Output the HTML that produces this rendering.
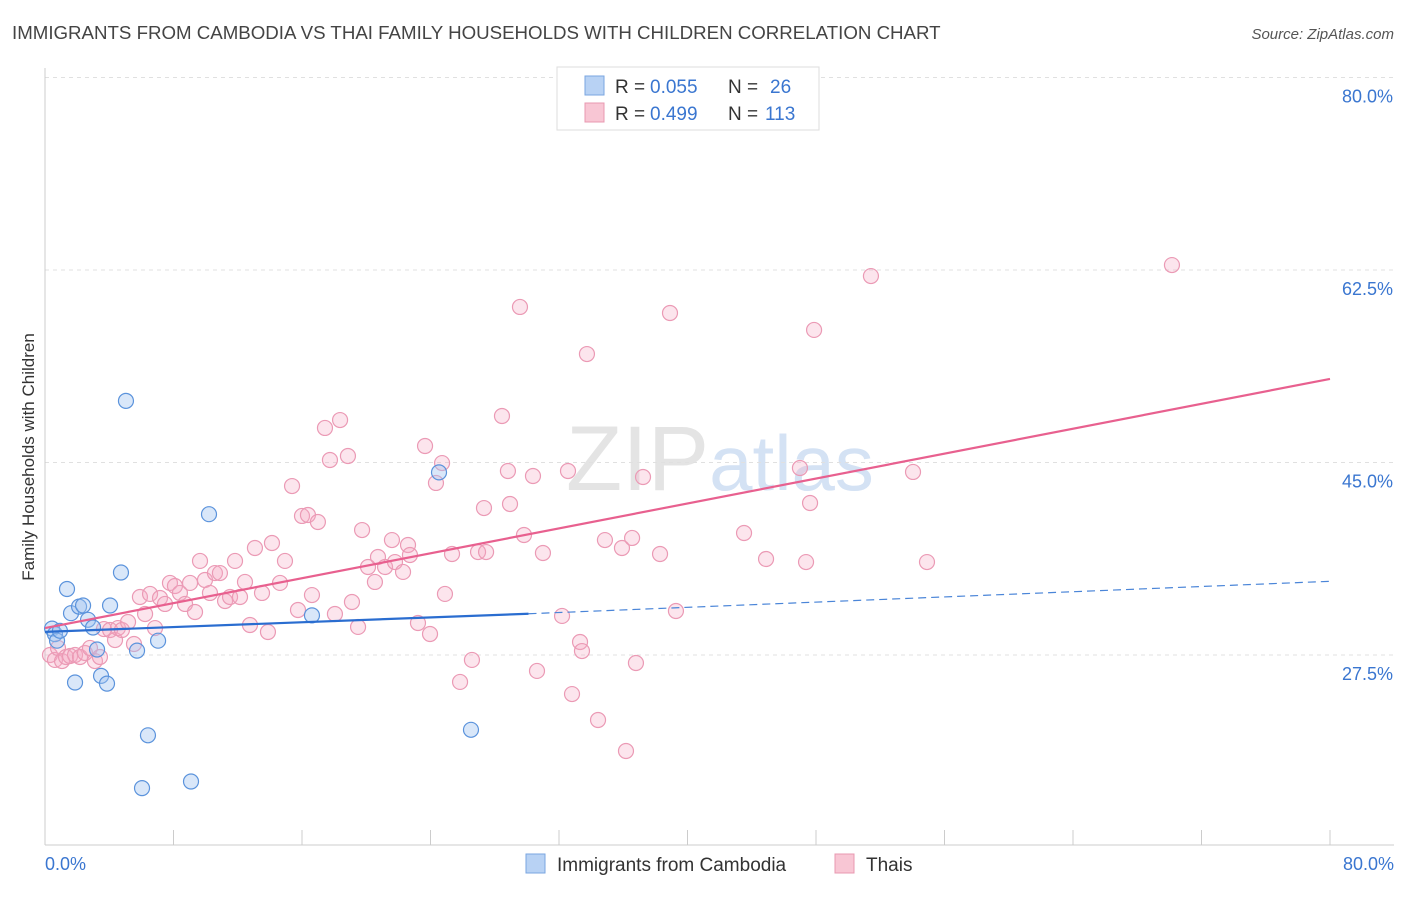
<!DOCTYPE html>
<html><head><meta charset="utf-8"><style>
body{margin:0;background:#fff;font-family:"Liberation Sans",sans-serif;}
svg text{font-family:"Liberation Sans",sans-serif;}
</style></head><body>
<svg id="chart" width="1406" height="892" xmlns="http://www.w3.org/2000/svg">
<text x="12" y="39" font-size="18.7" fill="#444">IMMIGRANTS FROM CAMBODIA VS THAI FAMILY HOUSEHOLDS WITH CHILDREN CORRELATION CHART</text>
<text x="1394" y="39" font-size="15" fill="#555" font-style="italic" text-anchor="end">Source: ZipAtlas.com</text>
<text x="720" y="490" font-size="92" text-anchor="middle" fill="#e4e4e4" font-family="Liberation Serif,serif">ZIP<tspan fill="#d4e2f4" font-family="Liberation Sans,sans-serif" font-size="78">atlas</tspan></text>
<g id="grid"></g><g id="axes"></g><g id="marks"></g>
<text transform="translate(34,457) rotate(-90)" font-size="17" fill="#333" text-anchor="middle">Family Households with Children</text>
<g>
<rect x="557" y="67" width="262" height="63" fill="#fff" stroke="#ddd"/>
<rect x="585" y="76" width="19" height="19" fill="#b8d2f4" stroke="#7aa6e0"/>
<text x="615" y="93" font-size="19" fill="#333">R = </text>
<text x="650" y="93" font-size="19" fill="#3a76d0">0.055</text>
<text x="728" y="93" font-size="19" fill="#333">N = </text>
<text x="770" y="93" font-size="19" fill="#3a76d0">26</text>
<rect x="585" y="103" width="19" height="19" fill="#f8c6d4" stroke="#e898b0"/>
<text x="615" y="120" font-size="19" fill="#333">R = </text>
<text x="650" y="120" font-size="19" fill="#3a76d0">0.499</text>
<text x="728" y="120" font-size="19" fill="#333">N = </text>
<text x="765" y="120" font-size="19" fill="#3a76d0">113</text>
</g>
<g>
<rect x="526" y="854" width="19" height="19" fill="#b8d2f4" stroke="#7aa6e0"/>
<text x="557" y="871" font-size="19" fill="#333">Immigrants from Cambodia</text>
<rect x="835" y="854" width="19" height="19" fill="#f8c6d4" stroke="#e898b0"/>
<text x="866" y="871" font-size="19" fill="#333">Thais</text>
</g>
</svg>
<script>
const yTicks=[27.5,45,62.5,80];
const yTickLabels=["27.5%","45.0%","62.5%","80.0%"];
const xTicks=[0,8,16,24,32,40,48,56,64,72,80];
const blueX=[0.44,0.62,0.75,0.93,1.37,1.62,1.87,2.12,2.37,2.68,2.99,3.24,3.49,3.86,4.05,4.73,5.04,5.73,6.04,6.41,7.04,9.09,10.21,16.62,24.53,26.52];
const blueY=[29.9,29.4,28.8,29.7,33.5,31.3,25.0,31.9,32.0,30.7,30.0,28.0,25.6,24.9,32.0,35.0,50.6,27.9,15.4,20.2,28.8,16.0,40.3,31.1,44.1,20.7];
const pinkX=[0.31,0.62,0.81,1.06,1.31,1.56,1.87,2.18,2.49,2.80,3.11,3.42,3.67,4.05,4.36,4.54,4.79,5.17,5.54,5.91,6.23,6.54,6.85,7.16,7.47,7.78,8.09,8.40,8.72,9.03,9.34,9.65,9.96,10.27,10.58,10.89,11.21,11.52,11.83,12.14,12.45,12.76,13.07,13.51,13.88,14.13,14.63,14.94,15.38,15.75,16.00,16.37,16.62,16.99,17.43,17.74,18.05,18.37,18.86,19.11,19.49,19.74,20.11,20.54,20.73,21.17,21.60,21.79,22.29,22.60,22.72,23.22,23.66,23.97,24.34,24.72,24.90,25.34,25.84,26.58,26.96,27.33,27.46,28.45,28.82,28.95,29.57,29.82,30.38,30.63,31.00,32.19,32.56,32.81,33.31,33.43,33.74,34.43,34.86,35.92,36.17,36.55,36.79,37.23,38.29,38.91,39.28,43.52,44.89,47.00,47.38,47.63,47.88,51.42,54.04,54.91,70.16];
const pinkY=[27.5,27.05,28.14,26.95,27.32,27.41,27.5,27.32,27.68,28.14,26.95,27.32,29.86,29.77,28.86,29.95,29.77,30.5,28.5,32.77,31.23,33.05,29.95,32.68,32.14,34.05,33.77,33.14,32.14,34.05,31.41,36.05,34.32,33.14,34.95,34.95,32.41,32.77,36.05,32.77,34.14,30.23,37.23,33.14,29.59,37.68,34.05,36.05,42.86,31.59,40.14,40.23,32.95,39.59,48.14,45.23,31.23,48.86,45.59,32.32,30.05,38.86,35.5,34.14,36.41,35.5,37.95,35.95,35.05,37.5,36.59,30.41,46.5,29.41,43.14,44.95,33.05,36.68,25.05,27.05,36.86,40.86,36.86,49.23,44.23,41.23,59.14,38.41,43.77,26.05,36.77,31.05,44.23,23.95,28.68,27.86,54.86,21.59,37.95,37.23,18.77,38.14,26.77,43.68,36.68,58.59,31.5,38.59,36.23,44.5,35.95,41.32,57.05,61.95,44.14,35.95,62.95];
const blueTrendX=[0,30.1,80];
const blueTrendY=[29.6,31.25,34.2];
const pinkTrendX=[0,80];
const pinkTrendY=[29.95,52.6];

const NS="http://www.w3.org/2000/svg";
const sx=v=>45+v*(1285/80);
const sy=v=>655-(v-27.5)*11;
function mk(t,a,p){const e=document.createElementNS(NS,t);for(const k in a)e.setAttribute(k,a[k]);p.appendChild(e);return e;}
const grid=document.getElementById('grid'),axes=document.getElementById('axes'),marks=document.getElementById('marks');
yTicks.forEach((t,i)=>{
 const l=mk('line',{x1:45,x2:1394,y1:sy(t),y2:sy(t),stroke:'#e0e0e0','stroke-dasharray':'4,4'},grid);
 
 
 const tx=mk('text',{x:1393,y:sy(t)+25,'font-size':18,fill:'#3a76d0','text-anchor':'end'},axes);
 tx.textContent=yTickLabels[i];
 
 
});
const xa=mk('line',{x1:45,x2:1394,y1:845,y2:845,stroke:'#ccc'},axes);


const ya=mk('line',{x1:45,x2:45,y1:68,y2:845,stroke:'#ccc'},axes);


xTicks.forEach(t=>{
 const l=mk('line',{x1:sx(t),x2:sx(t),y1:830,y2:845,stroke:'#ccc'},axes);
 
 
});
[[0,'0.0%','start',45],[80,'80.0%','end',1394]].forEach(d=>{
 const tx=mk('text',{x:d[3],y:870,'font-size':18,fill:'#3a76d0','text-anchor':d[2]},axes);
 tx.textContent=d[1];
 
 
});
pinkX.forEach((x,i)=>{
 const c=mk('circle',{cx:sx(x),cy:sy(pinkY[i]),r:7.5,fill:'rgba(244,170,195,0.3)',stroke:'#eb9ab5','stroke-width':1.2},marks);
 
 
});
blueX.forEach((x,i)=>{
 const c=mk('circle',{cx:sx(x),cy:sy(blueY[i]),r:7.5,fill:'rgba(160,195,240,0.4)',stroke:'#5b93dc','stroke-width':1.2},marks);
 
 
});
const pl=mk('line',{x1:sx(pinkTrendX[0]),y1:sy(pinkTrendY[0]),x2:sx(pinkTrendX[1]),y2:sy(pinkTrendY[1]),stroke:'#e8608f','stroke-width':2.2},marks);


const bl=mk('line',{x1:sx(blueTrendX[0]),y1:sy(blueTrendY[0]),x2:sx(blueTrendX[1]),y2:sy(blueTrendY[1]),stroke:'#2a6dd0','stroke-width':2.2},marks);


const bd=mk('line',{x1:sx(blueTrendX[1]),y1:sy(blueTrendY[1]),x2:sx(blueTrendX[2]),y2:sy(blueTrendY[2]),stroke:'#4a85d8','stroke-width':1.2,'stroke-dasharray':'8,5'},marks);


</script>
</body></html>
